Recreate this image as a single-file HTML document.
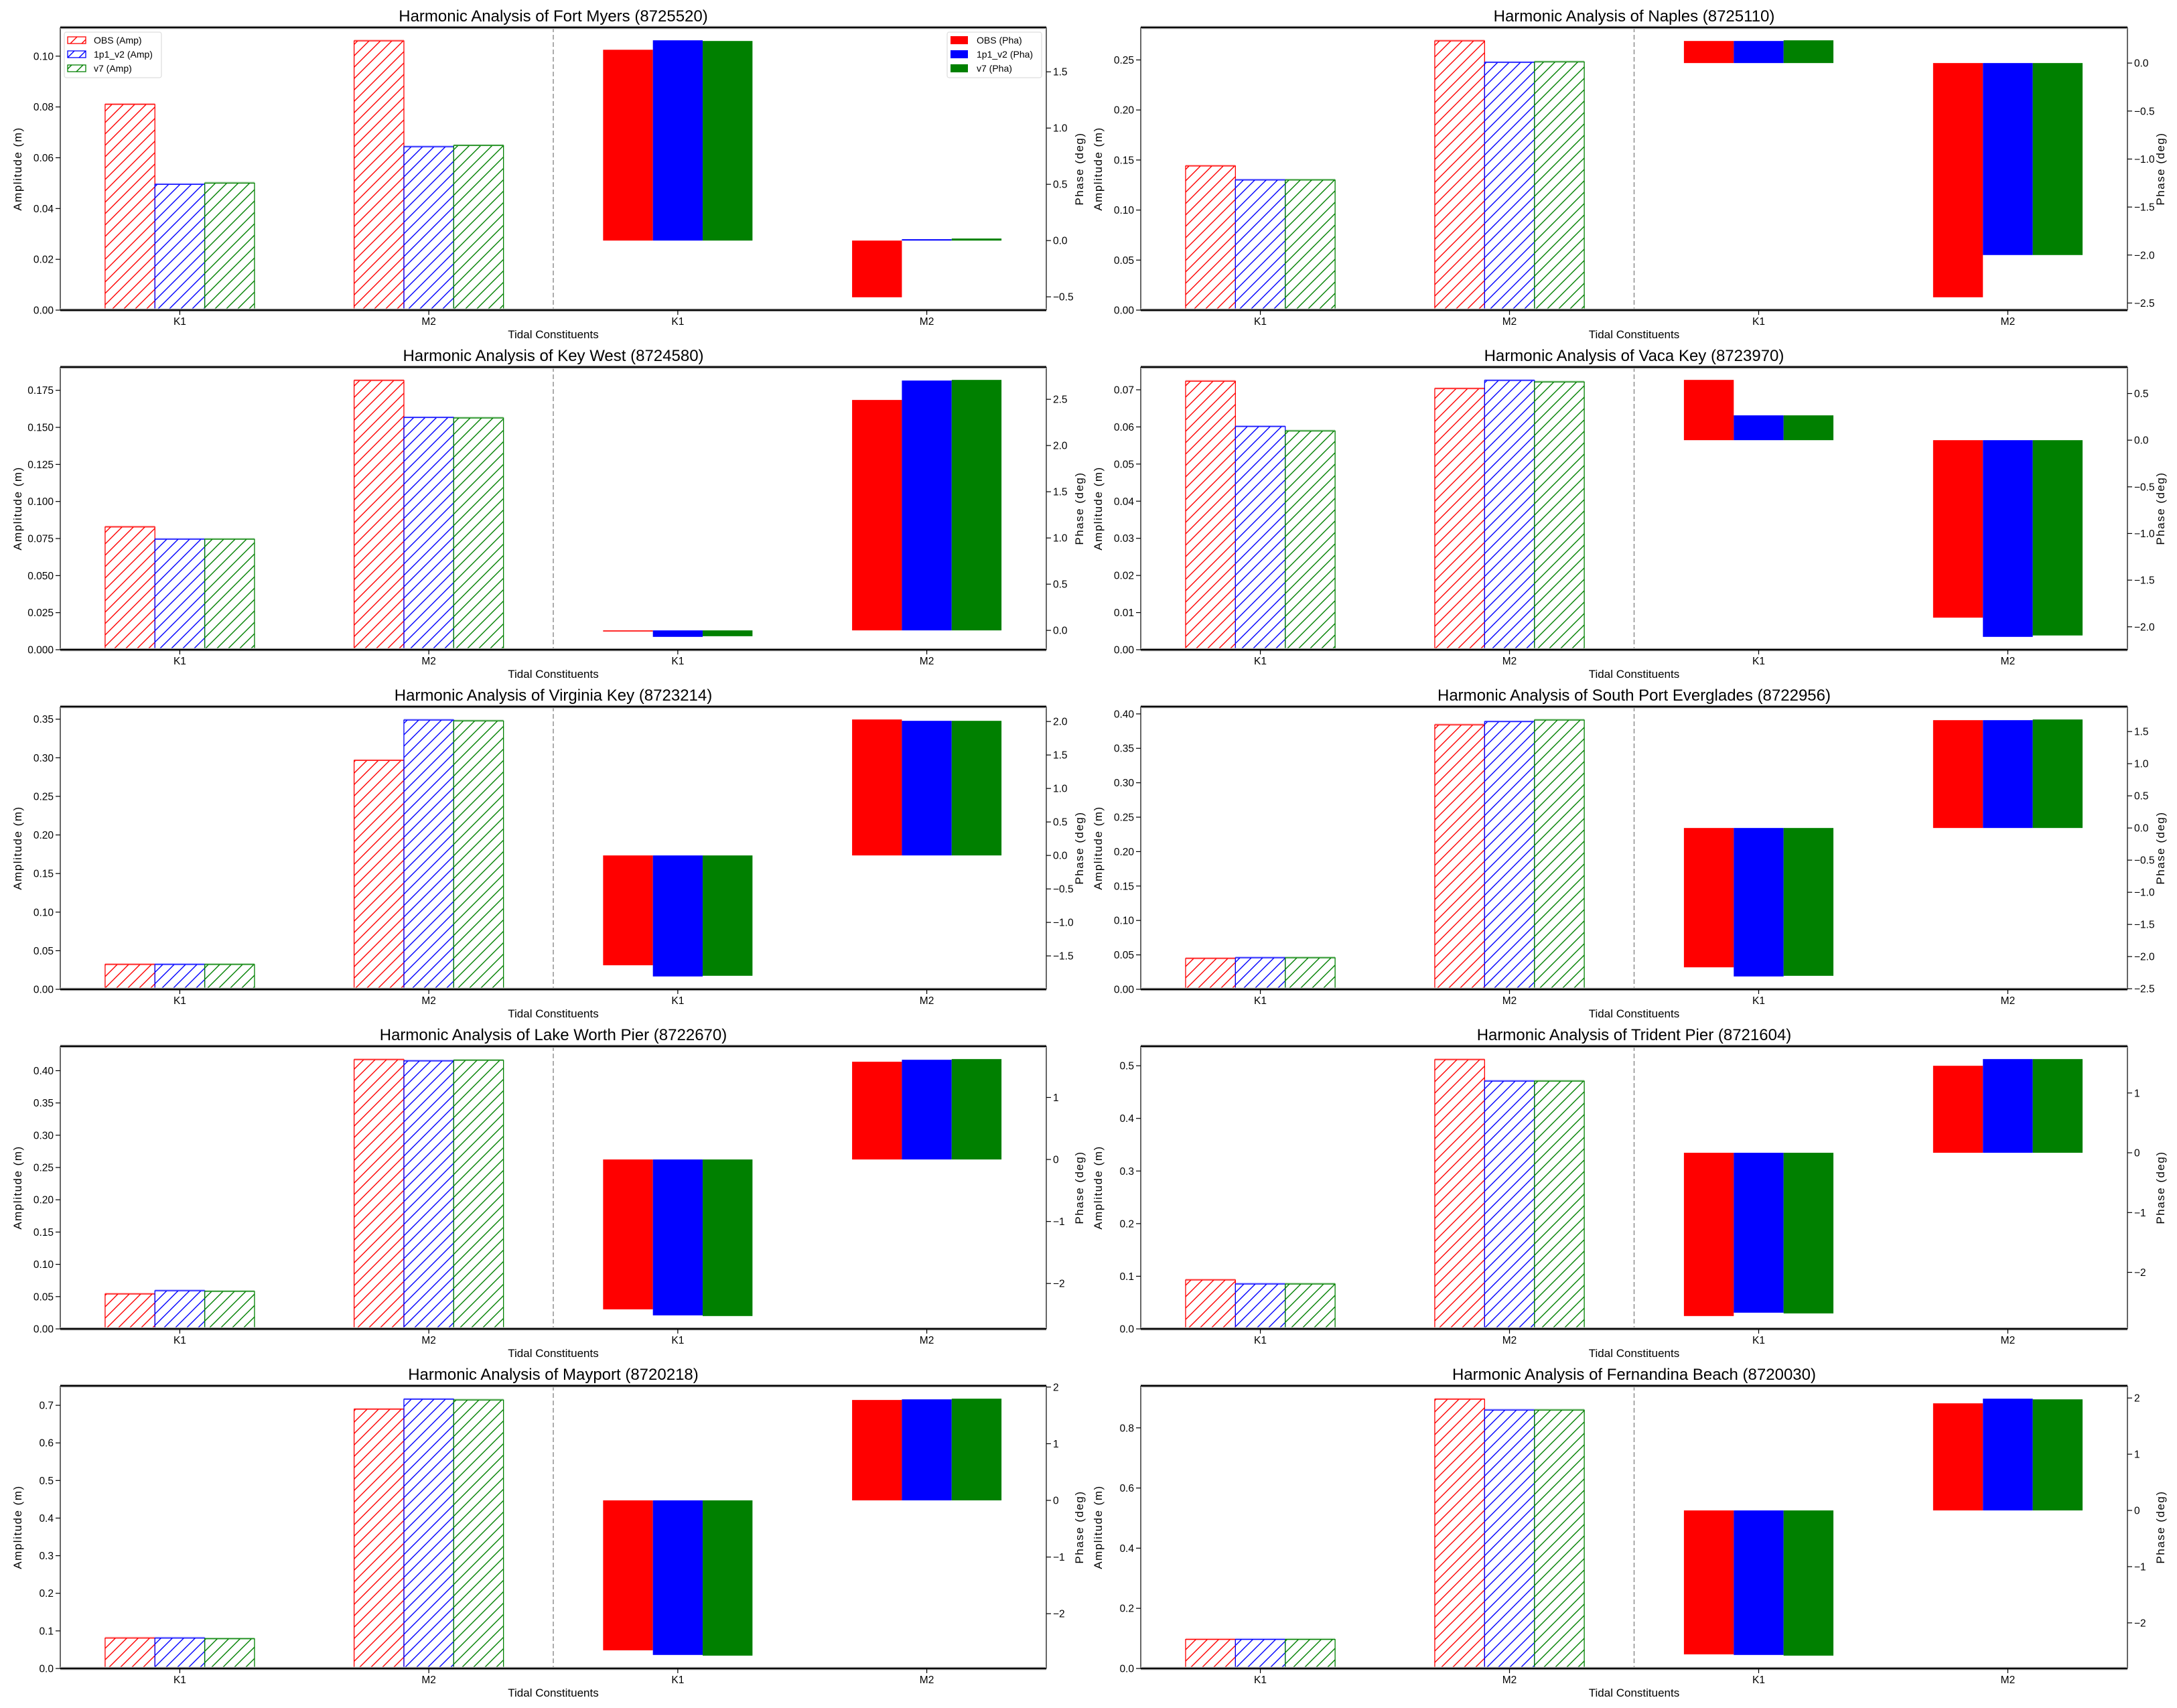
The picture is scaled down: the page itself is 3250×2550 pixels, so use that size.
<!DOCTYPE html>
<html><head><meta charset="utf-8"><title>Harmonic Analysis</title>
<style>
html,body{margin:0;padding:0;background:#fff;}
svg{display:block;font-family:"Liberation Sans","DejaVu Sans",sans-serif;}
</style></head>
<body>
<svg id="fig" xmlns="http://www.w3.org/2000/svg" width="3250" height="2550" viewBox="0 0 3250 2550">
<defs>
<pattern id="hatch-red" patternUnits="userSpaceOnUse" width="17" height="17"><path d="M0,17 L17,0 M-4,4 L4,-4 M13,21 L21,13" stroke="#ff0000" stroke-width="1.4"/></pattern>
<pattern id="hatch-blue" patternUnits="userSpaceOnUse" width="17" height="17"><path d="M0,17 L17,0 M-4,4 L4,-4 M13,21 L21,13" stroke="#0000ff" stroke-width="1.4"/></pattern>
<pattern id="hatch-green" patternUnits="userSpaceOnUse" width="17" height="17"><path d="M0,17 L17,0 M-4,4 L4,-4 M13,21 L21,13" stroke="#008000" stroke-width="1.4"/></pattern>
</defs>
<rect width="3250" height="2550" fill="#fff"/>
</svg>
<script>
// ---- data ----
const stationNames = ["Fort Myers (8725520)","Naples (8725110)","Key West (8724580)","Vaca Key (8723970)","Virginia Key (8723214)","South Port Everglades (8722956)","Lake Worth Pier (8722670)","Trident Pier (8721604)","Mayport (8720218)","Fernandina Beach (8720030)"];
const constituents = ["K1","M2"];
const seriesNames = ["OBS","1p1_v2","v7"];
// amplitude [K1, M2] per station
const ampObs   = [[0.081,0.106],[0.144,0.269],[0.0828,0.1816],[0.0723,0.0703],[0.0321,0.2965],[0.0447,0.384],[0.054,0.417],[0.0929,0.5115],[0.0808,0.6894],[0.0965,0.895]];
const ampP1v2  = [[0.0495,0.0643],[0.130,0.2475],[0.0745,0.1566],[0.0601,0.0725],[0.0321,0.3488],[0.0457,0.3887],[0.059,0.415],[0.0852,0.4707],[0.0808,0.716],[0.0965,0.859]];
const ampV7    = [[0.050,0.0648],[0.130,0.248],[0.0745,0.1563],[0.0589,0.0721],[0.0321,0.3477],[0.0457,0.391],[0.058,0.416],[0.0852,0.4707],[0.079,0.714],[0.0965,0.859]];
// phase [K1, M2] per station
const phaObs   = [[1.696,-0.504],[0.23,-2.44],[-0.012,2.493],[0.646,-1.902],[-1.64,2.03],[-2.167,1.677],[-2.417,1.576],[-2.731,1.455],[-2.646,1.772],[-2.56,1.905]];
const phaP1v2  = [[1.780,0.012],[0.23,-2.0],[-0.07,2.703],[0.266,-2.108],[-1.807,2.01],[-2.309,1.677],[-2.514,1.608],[-2.675,1.567],[-2.728,1.783],[-2.571,1.988]];
const phaV7    = [[1.774,0.018],[0.237,-2.0],[-0.063,2.71],[0.266,-2.093],[-1.797,2.01],[-2.299,1.6875],[-2.525,1.619],[-2.687,1.567],[-2.74,1.795],[-2.583,1.976]];
// tick labels
const ampTicks = [
 ["0.00","0.02","0.04","0.06","0.08","0.10"],
 ["0.00","0.05","0.10","0.15","0.20","0.25"],
 ["0.000","0.025","0.050","0.075","0.100","0.125","0.150","0.175"],
 ["0.00","0.01","0.02","0.03","0.04","0.05","0.06","0.07"],
 ["0.00","0.05","0.10","0.15","0.20","0.25","0.30","0.35"],
 ["0.00","0.05","0.10","0.15","0.20","0.25","0.30","0.35","0.40"],
 ["0.00","0.05","0.10","0.15","0.20","0.25","0.30","0.35","0.40"],
 ["0.0","0.1","0.2","0.3","0.4","0.5"],
 ["0.0","0.1","0.2","0.3","0.4","0.5","0.6","0.7"],
 ["0.0","0.2","0.4","0.6","0.8"]];
const phaTicks = [
 ["−0.5","0.0","0.5","1.0","1.5"],
 ["−2.5","−2.0","−1.5","−1.0","−0.5","0.0"],
 ["0.0","0.5","1.0","1.5","2.0","2.5"],
 ["−2.0","−1.5","−1.0","−0.5","0.0","0.5"],
 ["−1.5","−1.0","−0.5","0.0","0.5","1.0","1.5","2.0"],
 ["−2.5","−2.0","−1.5","−1.0","−0.5","0.0","0.5","1.0","1.5"],
 ["−2","−1","0","1"],
 ["−2","−1","0","1"],
 ["−2","−1","0","1","2"],
 ["−2","−1","0","1","2"]];

const colors = ["#ff0000","#0000ff","#008000"];
const hatchIds = ["hatch-red","hatch-blue","hatch-green"];
const NS = "http://www.w3.org/2000/svg";
const fig = document.getElementById("fig");
function mk(tag, attrs, parent){
  const e = document.createElementNS(NS, tag);
  for (const k in attrs) e.setAttribute(k, attrs[k]);
  (parent||fig).appendChild(e);
  return e;
}
const colL = [90, 1703], colR = [1562, 3176];
const rowT = [41, 548, 1055, 1562, 2069];
const H = 422;
const XMIN = -0.48, XMAX = 3.48;
const num = s => parseFloat(s.replace("−","-"));

for (let i = 0; i < stationNames.length; i++) {
  const col = i % 2, row = Math.floor(i / 2);
  const L = colL[col], R = colR[col], T = rowT[row], B = T + H;
  const g = mk("g", {});
  
  
  const xs = d => L + (d - XMIN) / (XMAX - XMIN) * (R - L);
  const amps = [ampObs[i], ampP1v2[i], ampV7[i]];
  const phas = [phaObs[i], phaP1v2[i], phaV7[i]];
  let amax = 0; amps.forEach(a => a.forEach(v => amax = Math.max(amax, v)));
  const aTop = amax * 1.05;
  const ya = v => B - v / aTop * H;
  let pmin = 0, pmax = 0; phas.forEach(a => a.forEach(v => { pmin = Math.min(pmin, v); pmax = Math.max(pmax, v); }));
  const pr = pmax - pmin;
  const pLo = pmin - 0.05 * pr, pHi = pmax + 0.05 * pr;
  const yp = v => B - (v - pLo) / (pHi - pLo) * H;

  // title
  const t = mk("text", {x: (L + R) / 2, y: T - 9, "text-anchor": "middle", "font-size": 24, fill: "#000"}, g);
  t.textContent = "Harmonic Analysis of " + stationNames[i];
  
  

  // amplitude bars
  for (let c = 0; c < 2; c++) for (let s = 0; s < 3; s++) {
    const xc = c + (s - 1) * 0.2;
    const x0 = xs(xc - 0.1), x1 = xs(xc + 0.1);
    const y0 = ya(amps[s][c]);
    const r = mk("rect", {x: x0, y: y0, width: x1 - x0, height: B - y0, fill: "url(#" + hatchIds[s] + ")", stroke: colors[s], "stroke-width": 1.3}, g);
    
    
    const tl = mk("line", {x1: x0, x2: x1, y1: y0 - 1, y2: y0 - 1, stroke: colors[s], "stroke-width": 2, "stroke-opacity": 0.3}, g);
  }
  // phase bars
  for (let c = 0; c < 2; c++) for (let s = 0; s < 3; s++) {
    const xc = 2 + c + (s - 1) * 0.2;
    const x0 = xs(xc - 0.1), x1 = xs(xc + 0.1);
    const ya0 = yp(0), ya1 = yp(phas[s][c]);
    const r = mk("rect", {x: x0, y: Math.min(ya0, ya1), width: x1 - x0, height: Math.max(1, Math.abs(ya1 - ya0)), fill: colors[s]}, g);
    
    
  }
  // divider
  const dv = mk("line", {x1: xs(1.5), x2: xs(1.5), y1: T, y2: B, stroke: "#808080", "stroke-width": 1.3, "stroke-dasharray": "7,4"}, g);
  
  

  // spines
  mk("line", {x1: L, x2: L, y1: T, y2: B, stroke: "#000", "stroke-width": 1.2}, g);
  mk("line", {x1: R, x2: R, y1: T, y2: B, stroke: "#000", "stroke-width": 1.2}, g);
  mk("line", {x1: L, x2: R, y1: T, y2: T, stroke: "#ccc", "stroke-width": 5}, g);
  mk("line", {x1: L, x2: R, y1: T, y2: T, stroke: "#000", "stroke-width": 2.5}, g);
  mk("line", {x1: L, x2: R, y1: B, y2: B, stroke: "#ccc", "stroke-width": 5}, g);
  mk("line", {x1: L, x2: R, y1: B, y2: B, stroke: "#000", "stroke-width": 2.5}, g);

  // left ticks
  ampTicks[i].forEach(lbl => {
    const y = ya(num(lbl));
    mk("line", {x1: L - 7, x2: L, y1: y, y2: y, stroke: "#000", "stroke-width": 1.2}, g);
    const tx = mk("text", {x: L - 10, y: y + 5.5, "text-anchor": "end", "font-size": 15.5, fill: "#000"}, g);
    tx.textContent = lbl;
    
    
  });
  // right ticks
  phaTicks[i].forEach(lbl => {
    const y = yp(num(lbl));
    mk("line", {x1: R, x2: R + 7, y1: y, y2: y, stroke: "#000", "stroke-width": 1.2}, g);
    const tx = mk("text", {x: R + 10, y: y + 5.5, "text-anchor": "start", "font-size": 15.5, fill: "#000"}, g);
    tx.textContent = lbl;
    
    
  });
  // x ticks
  [0, 1, 2, 3].forEach(k => {
    const x = xs(k);
    mk("line", {x1: x, x2: x, y1: B, y2: B + 7, stroke: "#000", "stroke-width": 1.2}, g);
    const tx = mk("text", {x: x, y: B + 22, "text-anchor": "middle", "font-size": 15.5, fill: "#000"}, g);
    tx.textContent = constituents[k % 2];
    
    
  });
  // axis labels
  const xl = mk("text", {x: (L + R) / 2, y: B + 42, "text-anchor": "middle", "font-size": 17, fill: "#000"}, g);
  xl.textContent = "Tidal Constituents";
  
  
  const al = mk("text", {x: 0, y: 0, "text-anchor": "middle", "font-size": 17, "letter-spacing": 1.5, fill: "#000", transform: "translate(" + (L - 58) + "," + ((T + B) / 2) + ") rotate(-90)"}, g);
  al.textContent = "Amplitude (m)";
  
  
  const pl = mk("text", {x: 0, y: 0, "text-anchor": "middle", "font-size": 17, "letter-spacing": 1.5, fill: "#000", transform: "translate(" + (R + 55) + "," + ((T + B) / 2) + ") rotate(-90)"}, g);
  pl.textContent = "Phase (deg)";
  
  

  // legends (first panel only)
  if (i === 0) {
    const lg1 = mk("g", {}, g);
    
    
    mk("rect", {x: 96, y: 48, width: 145, height: 68, fill: "#fff", "fill-opacity": 0.8, stroke: "#ddd", "stroke-width": 1.2, rx: 3}, lg1);
    const lg2 = mk("g", {}, g);
    
    
    mk("rect", {x: 1414, y: 48, width: 141, height: 68, fill: "#fff", "fill-opacity": 0.8, stroke: "#ddd", "stroke-width": 1.2, rx: 3}, lg2);
    for (let s = 0; s < 3; s++) {
      const y = 60 + s * 21;
      const p1 = mk("rect", {x: 101, y: y - 5, width: 27, height: 10, fill: "url(#" + hatchIds[s] + ")", stroke: colors[s], "stroke-width": 1.3}, lg1);
      const e1 = mk("text", {x: 140, y: y + 5, "font-size": 14, fill: "#000"}, lg1);
      e1.textContent = seriesNames[s] + " (Amp)";
      
      
      mk("rect", {x: 1419, y: y - 6, width: 26, height: 12, fill: colors[s]}, lg2);
      const e2 = mk("text", {x: 1458, y: y + 5, "font-size": 14, fill: "#000"}, lg2);
      e2.textContent = seriesNames[s] + " (Pha)";
      
      
    }
  }
}
</script>
</body></html>
